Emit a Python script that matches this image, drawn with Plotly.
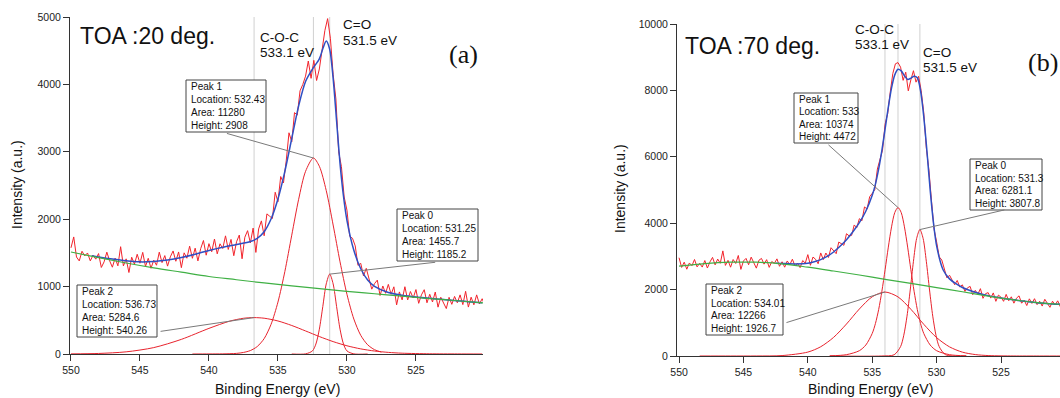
import numpy as np
import plotly.graph_objects as go

# ---------------- Panel (a): TOA 20 deg ----------------
# raw spectrum, 550.0 -> 520.0 eV in 0.2 eV steps
raw_a = [
    1575, 1737, 1439, 1381, 1524, 1456, 1499, 1382, 1464, 1407,
    1490, 1284, 1367, 1511, 1384, 1288, 1423, 1308, 1592, 1307,
    1412, 1209, 1436, 1333, 1480, 1347, 1508, 1299, 1420, 1272,
    1393, 1317, 1511, 1356, 1460, 1304, 1441, 1529, 1376, 1514,
    1281, 1501, 1421, 1600, 1420, 1570, 1381, 1563, 1684, 1466,
    1637, 1517, 1706, 1486, 1635, 1565, 1753, 1551, 1700, 1458,
    1666, 1765, 1413, 1732, 1830, 1649, 1868, 1507, 1856, 1975,
    1754, 2079, 2044, 2011, 2400, 2259, 2633, 2538, 2867, 3282,
    3147, 3581, 3545, 3904, 3999, 4123, 4347, 4090, 4357, 4058,
    4229, 4520, 4799, 4976, 4685, 4150, 3784, 2998, 2781, 2329,
    2134, 1746, 1718, 1604, 1315, 1345, 1158, 1271, 1099, 962,
    1044, 1096, 868, 1009, 901, 1033, 885, 997, 729, 921,
    803, 998, 802, 927, 831, 956, 752, 878, 954, 760,
    886, 772, 919, 695, 842, 768, 674, 841, 737, 854,
    760, 877, 733, 930, 696, 843, 730, 877, 743, 820,
    717,
]
energy_a = np.round(np.linspace(550.0, 520.0, len(raw_a)), 2)

bg_a_e = [550, 548, 546, 544, 542, 540, 538, 536, 534, 532, 530, 528, 526, 524, 522, 520]
bg_a = [1513, 1430, 1350, 1278, 1214, 1150, 1102, 1054, 1010, 970, 930, 894, 858, 823, 790, 757]

fit_a_e = [548.5, 548, 547, 546, 545, 544, 543, 542, 541, 540,
           539, 538, 537, 536.5, 536, 535.5, 535, 534.5, 534, 533.5,
           533, 532.5, 532, 531.75, 531.5, 531.25, 531, 530.75, 530.5, 530.25,
           530, 529.5, 529, 528.5, 528, 527, 526, 525, 524, 523,
           522, 521, 520.2]
fit_a = [1458, 1440, 1408, 1382, 1367, 1373, 1394, 1431, 1480, 1537,
         1585, 1626, 1669, 1717, 1814, 2002, 2299, 2710, 3197, 3682,
         4043, 4227, 4379, 4530, 4645, 4522, 4090, 3457, 2825, 2340,
         1984, 1539, 1265, 1098, 1004, 913, 873, 846, 826, 808,
         790, 773, 760]

peak0_a_e = [534, 533, 532.5, 532.25, 532, 531.75, 531.5, 531.25, 531, 530.75, 530.5, 530.25, 530, 529.5, 528.5]
peak0_a = [0, 2, 46, 148, 368, 704, 1040, 1185, 1040, 704, 368, 148, 46, 2, 0]

peak1_a_e = [541.2, 540, 539, 538, 537.5, 537, 536.5, 536, 535.5, 535,
             534.5, 534, 533.5, 533, 532.43, 532, 531.5, 531, 530.5, 530,
             529.5, 529, 528.5, 528, 527.5]
peak1_a = [0, 1, 2, 9, 23, 51, 111, 228, 440, 770,
           1224, 1763, 2296, 2710, 2908, 2785, 2425, 1914, 1367, 886,
           519, 277, 137, 64, 28]

peak2_a_e = [550, 548, 546, 544, 542, 540, 538.5, 537.5, 536.73, 536,
             535, 534, 533, 532, 531, 530, 529, 528, 527, 526,
             524, 522, 520.2]
peak2_a = [2, 8, 32, 95, 217, 380, 487, 530, 540, 531,
           490, 423, 342, 259, 184, 122, 76, 44, 24, 12,
           3, 1, 0]

peak_loc_a = [531.25, 532.43, 536.73]
peak_area_a = [1455.7, 11280, 5284.6]
peak_height_a = [1185.2, 2908, 540.26]

# ---------------- Panel (b): TOA 70 deg ----------------
raw_b = [
    2960, 2668, 2826, 2614, 2802, 2720, 2907, 2684, 2791, 2678,
    2875, 2650, 2835, 2970, 2745, 2920, 2793, 3166, 2729, 2882,
    2675, 2906, 2787, 3028, 2609, 2861, 2940, 2749, 2978, 2797,
    2646, 2883, 2939, 2766, 2902, 2669, 2845, 2790, 2926, 2702,
    2838, 2675, 2862, 2749, 2916, 2713, 2797, 2661, 2875, 2799,
    3053, 2732, 2980, 2913, 2779, 3104, 2903, 3102, 2968, 3261,
    3163, 3082, 3431, 3385, 3334, 3683, 3619, 3634, 3947, 3867,
    4136, 4073, 4490, 4425, 4797, 4899, 5011, 5632, 5898, 6203,
    6988, 7304, 7952, 8511, 8801, 8838, 8700, 8303, 8549, 7987,
    8318, 8593, 8248, 8425, 7995, 7330, 6269, 5601, 4681, 3824,
    3435, 2988, 2892, 2603, 2353, 2433, 2305, 2147, 2275, 2079,
    2143, 1944, 2055, 2096, 1847, 1978, 1858, 2028, 1738, 1878,
    1908, 1744, 1900, 1647, 1833, 1769, 1647, 1856, 1664, 1783,
    1591, 1741, 1811, 1590, 1680, 1520, 1722, 1584, 1726, 1548,
    1650, 1504, 1708, 1602, 1466, 1650, 1536, 1662, 1488, 1594,
    1530,
]
energy_b = np.round(np.linspace(550.0, 520.0, len(raw_b)), 2)

bg_b_e = [550, 548, 546, 544, 542, 540, 538, 536, 534, 532, 530, 528, 526, 524, 522, 520]
bg_b = [2710, 2785, 2825, 2825, 2775, 2675, 2560, 2440, 2310, 2190, 2060, 1935, 1805, 1690, 1600, 1550]

fit_b_e = [542.5, 542, 541, 540, 539.5, 539, 538.5, 538, 537.5, 537,
           536.5, 536, 535.5, 535, 534.75, 534.5, 534.25, 534, 533.75, 533.5,
           533.25, 533, 532.75, 532.5, 532.25, 532, 531.75, 531.5, 531.25, 531,
           530.75, 530.5, 530.25, 530, 529.5, 529, 528.5, 528, 527, 526,
           525, 524, 523, 522, 521, 520]
fit_b = [2795, 2788, 2773, 2793, 2840, 2904, 3002, 3133, 3305, 3503,
         3742, 4016, 4359, 4839, 5179, 5634, 6194, 6838, 7496, 8074,
         8467, 8638, 8590, 8445, 8330, 8368, 8424, 8381, 7991, 7210,
         6159, 4995, 4026, 3315, 2598, 2323, 2178, 2063, 1918, 1818,
         1749, 1691, 1640, 1600, 1570, 1550]

peak0_b_e = [538.3, 534.3, 533.3, 532.8, 532.55, 532.3, 532.05, 531.8, 531.55,
             531.3, 531.05, 530.8, 530.55, 530.3, 530.05, 529.8, 529.3, 527.7]
peak0_b = [0, 0, 37, 283, 626, 1200, 1988, 2852, 3543,
           3808, 3543, 2852, 1988, 1200, 626, 283, 37, 0]

peak1_b_e = [538.3, 537, 536, 535.5, 535, 534.75, 534.5, 534.25, 534, 533.75,
             533.5, 533.25, 533, 532.75, 532.5, 532.25, 532, 531.75, 531.5, 531.25,
             531, 530.5, 530, 529, 527.7]
peak1_b = [5, 40, 160, 330, 680, 980, 1400, 1950, 2600, 3280,
           3890, 4320, 4472, 4320, 3890, 3280, 2600, 1950, 1400, 980,
           680, 330, 160, 40, 5]

peak2_b_e = [548.4, 546, 544, 542, 540, 539, 538, 537, 536, 535,
             534.01, 533, 532, 531, 530, 529, 528, 527, 526, 525,
             524, 522, 520]
peak2_b = [0, 0, 1, 13, 118, 279, 561, 963, 1416, 1784,
           1927, 1780, 1408, 955, 553, 275, 116, 43, 13, 4,
           1, 0, 0]

peak_loc_b = [531.3, 533, 534.01]
peak_area_b = [6281.1, 10374, 12266]
peak_height_b = [3807.8, 4472, 1926.7]

x_ticks = [550, 545, 540, 535, 530, 525]
y_ticks_a = [0, 1000, 2000, 3000, 4000, 5000]
y_ticks_b = [0, 2000, 4000, 6000, 8000, 10000]

# ---------------- styling ----------------
W, H = 1060, 398
RED = "#f2232b"
PEAK_RED = "#e8232d"
BLUE = "#2f4fc4"
GREEN = "#3fb044"
AX = "#333333"
FONT = "Liberation Sans, Arial, Helvetica, sans-serif"

def px(x):
    return x / W

def py(y):
    return 1 - y / H

fig = go.Figure()

def add_panel(xa, ya, e, raw, bge, bg, fe, fit, peaks):
    for pe, pv in peaks:
        fig.add_trace(go.Scatter(x=pe, y=pv, mode="lines", xaxis=xa, yaxis=ya,
                                 line=dict(color=PEAK_RED, width=1, shape="spline", smoothing=0.8),
                                 hoverinfo="skip"))
    fig.add_trace(go.Scatter(x=e, y=raw, mode="lines", xaxis=xa, yaxis=ya,
                             line=dict(color=RED, width=1)))
    fig.add_trace(go.Scatter(x=fe, y=fit, mode="lines", xaxis=xa, yaxis=ya,
                             line=dict(color=BLUE, width=1.5, shape="spline", smoothing=0.8)))
    fig.add_trace(go.Scatter(x=bge, y=bg, mode="lines", xaxis=xa, yaxis=ya,
                             line=dict(color=GREEN, width=1.2, shape="spline")))

add_panel("x", "y", energy_a, raw_a, bg_a_e, bg_a, fit_a_e, fit_a,
          [(peak2_a_e, peak2_a), (peak1_a_e, peak1_a), (peak0_a_e, peak0_a)])
add_panel("x2", "y2", energy_b, raw_b, bg_b_e, bg_b, fit_b_e, fit_b,
          [(peak2_b_e, peak2_b), (peak1_b_e, peak1_b), (peak0_b_e, peak0_b)])

# grey marker lines at the fitted peak locations
shapes = []
for loc in peak_loc_a:
    shapes.append(dict(type="line", xref="x", yref="y domain", x0=loc, x1=loc, y0=0, y1=1,
                       line=dict(color="#d0d0d0", width=1), layer="below"))
for loc in peak_loc_b:
    shapes.append(dict(type="line", xref="x2", yref="y2 domain", x0=loc, x1=loc, y0=0, y1=1,
                       line=dict(color="#d0d0d0", width=1), layer="below"))

axis_common = dict(showgrid=False, zeroline=False, showline=True, linecolor=AX, linewidth=1,
                   ticks="outside", ticklen=6, tickwidth=1, tickcolor=AX, automargin=False,
                   tickfont=dict(family=FONT, size=10.5, color="#222222"))

fig.update_layout(
    width=W, height=H, margin=dict(l=0, r=0, t=0, b=0, autoexpand=False),
    paper_bgcolor="white", plot_bgcolor="white", showlegend=False,
    xaxis=dict(domain=[px(70), px(483)], range=[550.07, 520.14], anchor="y",
               tickvals=x_ticks, ticktext=[str(v) for v in x_ticks], **axis_common),
    yaxis=dict(domain=[1 - 354 / H, 1 - 17 / H], range=[0, 5000], anchor="x",
               tickvals=y_ticks_a, ticktext=[str(v) for v in y_ticks_a], **axis_common),
    xaxis2=dict(domain=[px(677), 1.0], range=[550.16, 520.42], anchor="y2",
                tickvals=x_ticks, ticktext=[str(v) for v in x_ticks], **axis_common),
    yaxis2=dict(domain=[1 - 356 / H, 1 - 24 / H], range=[0, 10000], anchor="x2",
                tickvals=y_ticks_b, ticktext=[str(v) for v in y_ticks_b], **axis_common),
)

ann = []

def text(x, y, s, size, xanchor="left", family=FONT, angle=0, color="#111111"):
    ann.append(dict(x=px(x), y=py(y), xref="paper", yref="paper", text=s, showarrow=False,
                    xanchor=xanchor, yanchor="middle", textangle=angle,
                    font=dict(family=family, size=size, color=color)))

# axis titles
text(17, 185, "Intensity (a.u.)", 14, xanchor="center", angle=-90)
text(277, 389, "Binding Energy (eV)", 14, xanchor="center")
text(620, 189, "Intensity (a.u.)", 14, xanchor="center", angle=-90)
text(870, 389, "Binding Energy (eV)", 14, xanchor="center")

# panel labels
text(78, 36, "TOA :20 deg.", 23)
text(683, 46, "TOA :70 deg.", 23)
text(447, 55, "(a)", 26, family="Liberation Serif, Times New Roman, serif")
text(1026, 63, "(b)", 26, family="Liberation Serif, Times New Roman, serif")

text(258, 37.5, "C-O-C", 13.5)
text(258, 53, "533.1 eV", 13.5)
text(341, 24.5, "C=O", 13.5)
text(341, 40, "531.5 eV", 13.5)
text(853, 29, "C-O-C", 13.5)
text(853, 44, "533.1 eV", 13.5)
text(921, 52.5, "C=O", 13.5)
text(921, 68, "531.5 eV", 13.5)

# peak tag boxes: frame + 4 text lines + leader line to the peak maximum
def tag(i, loc, area, height, left, top, right, bottom, xa, ya, ax, ay):
    shapes.append(dict(type="rect", xref="paper", yref="paper",
                       x0=px(left), x1=px(right), y0=py(bottom), y1=py(top),
                       line=dict(color="#444444", width=1), fillcolor="white", layer="above"))
    lines = [f"Peak {i}", f"Location: {loc:g}", f"Area: {area:g}", f"Height: {height:g}"]
    step = (bottom - top) / 4.0
    for k, s in enumerate(lines):
        text(left + 2.5, top + step * (k + 0.5), s, 10, color="#111111")
    ann.append(dict(x=loc, y=height, xref=xa, yref=ya, text="", showarrow=True,
                    arrowhead=0, arrowwidth=1, arrowcolor="#7a7a7a", ax=ax, ay=ay,
                    axref="pixel", ayref="pixel", standoff=0))

tag(1, peak_loc_a[1], peak_area_a[1], peak_height_a[1], 186, 80, 266, 132, "x", "y", -88, -25)
tag(2, peak_loc_a[2], peak_area_a[2], peak_height_a[2], 77, 285, 157, 337, "x", "y", -95, 14)
tag(0, peak_loc_a[0], peak_area_a[0], peak_height_a[0], 397, 209, 478, 261, "x", "y", 107, -12)
tag(1, peak_loc_b[1], peak_area_b[1], peak_height_b[1], 794, 93, 858, 143, "x2", "y2", -71, -64)
tag(2, peak_loc_b[2], peak_area_b[2], peak_height_b[2], 706, 284, 783, 335, "x2", "y2", -100, 31)
tag(0, peak_loc_b[0], peak_area_b[0], peak_height_b[0], 970, 159, 1042, 210, "x2", "y2", 86, -20)

fig.update_layout(annotations=ann, shapes=shapes)
fig.write_html("out.html")
